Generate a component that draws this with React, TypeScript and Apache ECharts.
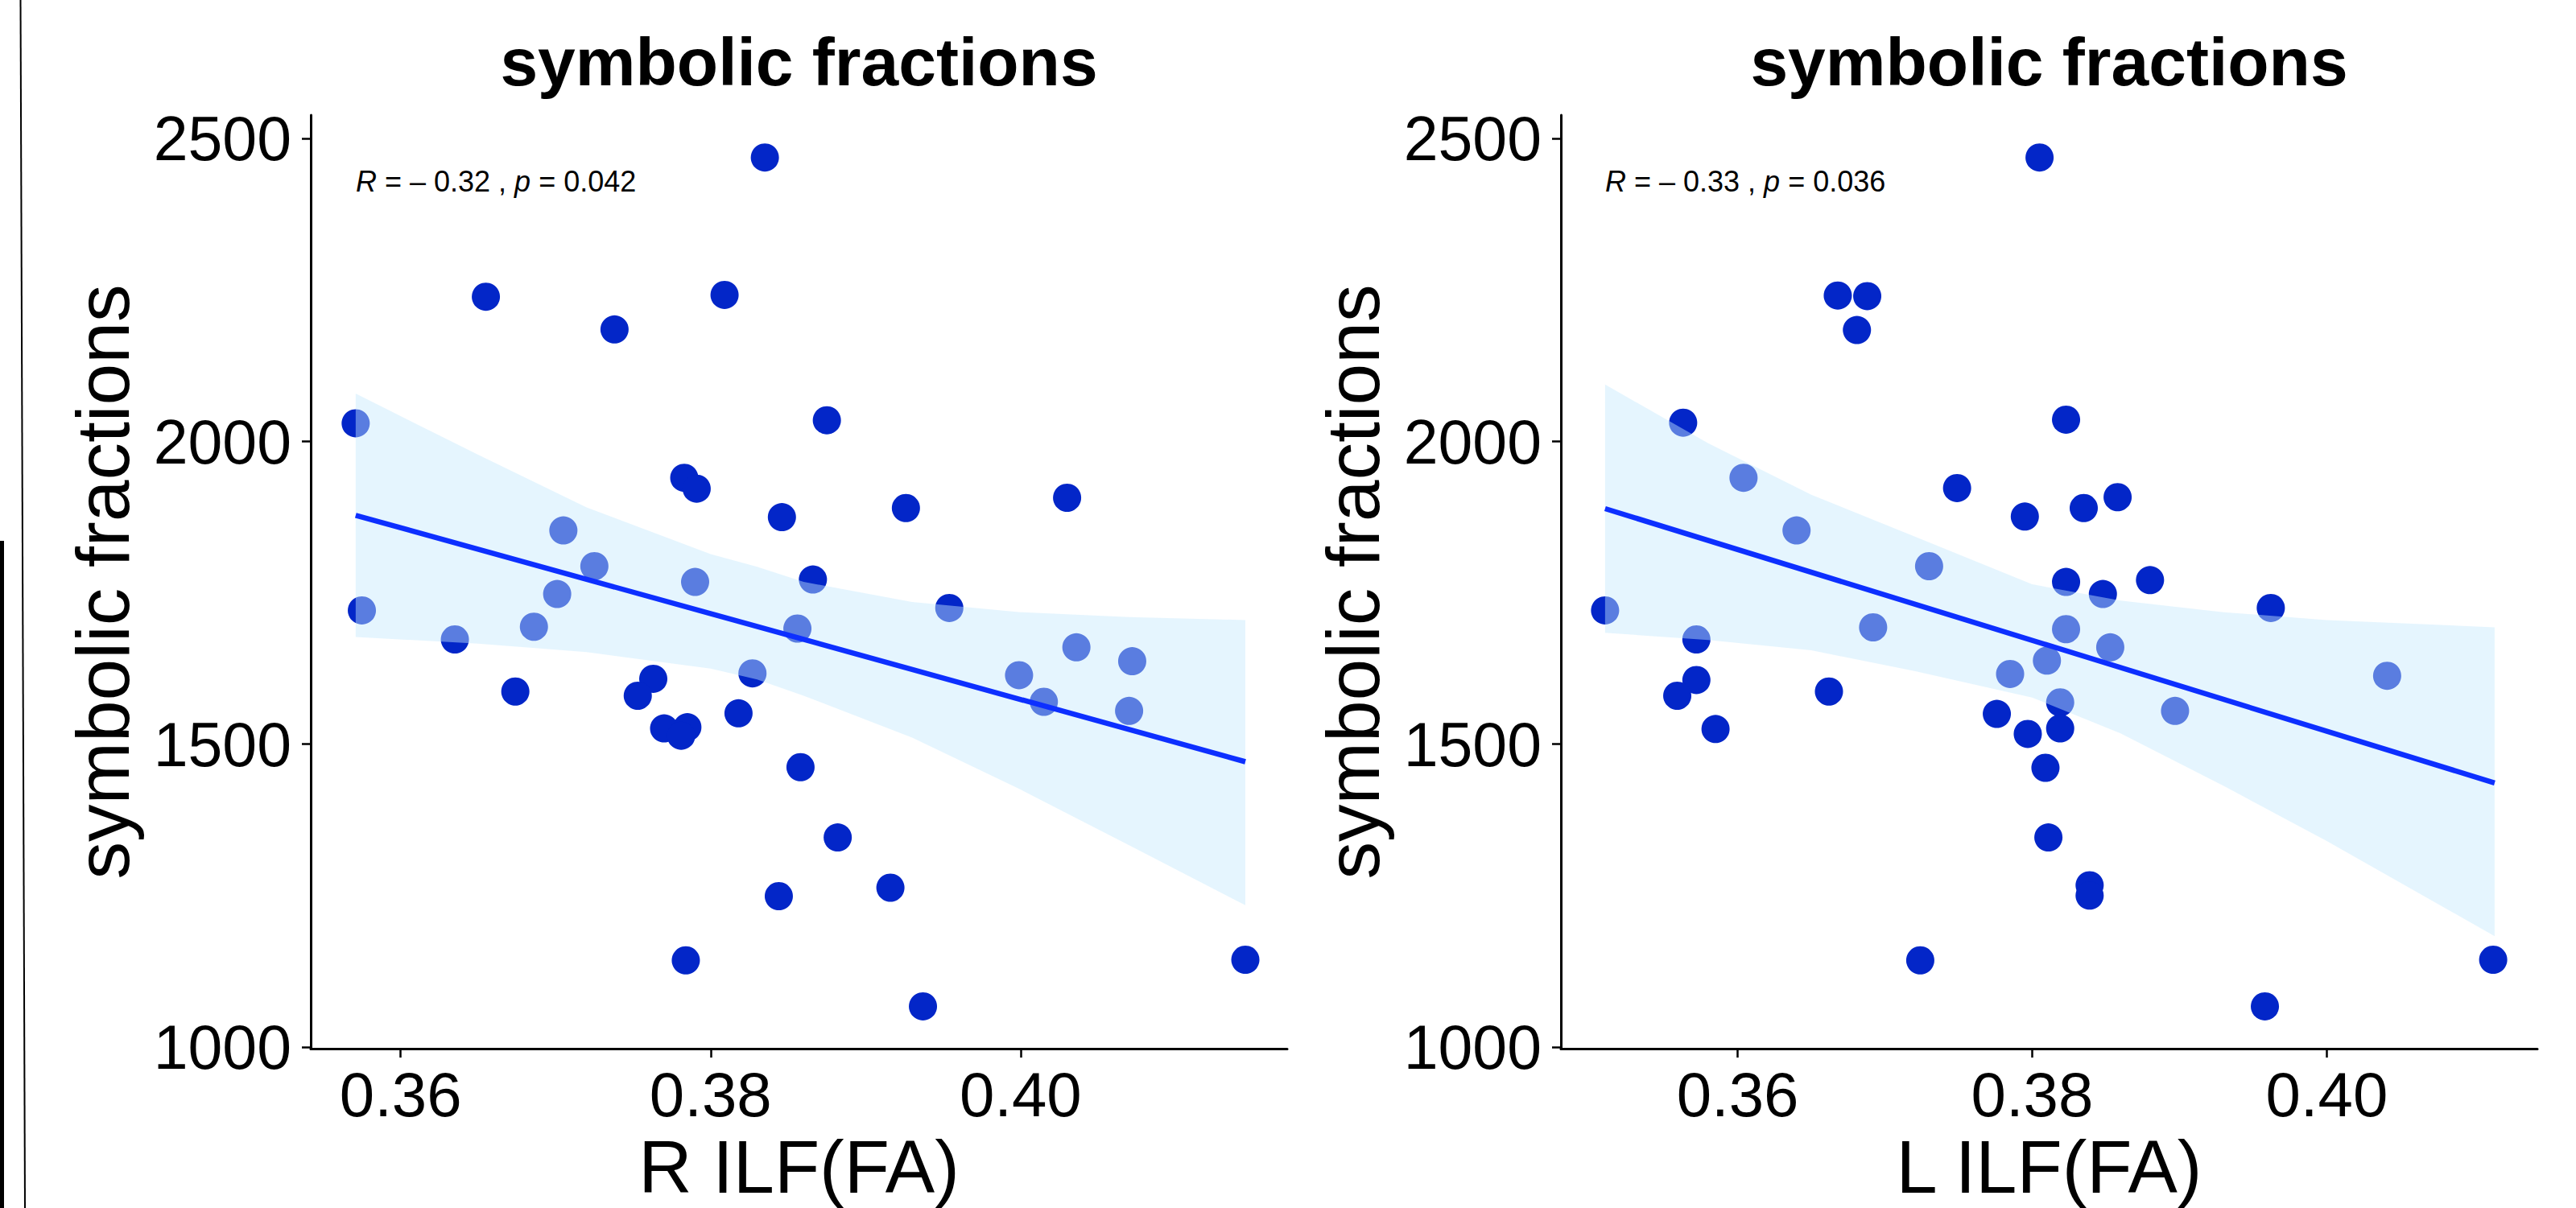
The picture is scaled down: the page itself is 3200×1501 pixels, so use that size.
import React, { useEffect, useRef } from "react";
import * as echarts from "echarts";

const FONT = '"Liberation Sans", Arial, Helvetica, sans-serif';

// ---------- texts ----------
const PANEL_TITLE = "symbolic fractions";
const Y_AXIS_NAME = "symbolic fractions";
const X_AXIS_NAMES = ["R ILF(FA)", "L ILF(FA)"];
const STAT_TEXTS = [
  "{i|R} = – 0.32 , {i|p} = 0.042",
  "{i|R} = – 0.33 , {i|p} = 0.036",
];

// ---------- ticks ----------
const X_TICKS = [0.36, 0.38, 0.4];
const Y_TICKS = [1000, 1500, 2000, 2500];

// ---------- panel 1: R ILF(FA) ----------
const rX = [
  0.3835, 0.3655, 0.3809, 0.3738, 0.3571, 0.3875, 0.3783, 0.3791, 0.403, 0.3926,
  0.3846, 0.3705, 0.3725, 0.379, 0.3866, 0.3575, 0.3701, 0.3686, 0.3635, 0.3954,
  0.3856, 0.4036, 0.4072, 0.3999, 0.4015, 0.407, 0.3827, 0.3674, 0.3763, 0.3753,
  0.3818, 0.377, 0.3785, 0.3781, 0.3858, 0.3882, 0.3844, 0.3916, 0.3784, 0.4145,
  0.3937,
];
const rY = [
  2469, 2239, 2242, 2185, 2030, 2035, 1940, 1922, 1907, 1890,
  1875, 1853, 1794, 1768, 1772, 1721, 1748, 1694, 1673, 1725,
  1691, 1660, 1637, 1614, 1570, 1555, 1617, 1587, 1608, 1580,
  1551, 1526, 1528, 1514, 1462, 1346, 1249, 1263, 1143, 1144,
  1067,
];
const rBandX = [0.3571, 0.365, 0.372, 0.38, 0.383, 0.386, 0.393, 0.4, 0.407, 0.4145];
const rBandUpper = [2079, 1978, 1891, 1814, 1793, 1768, 1735, 1718, 1710, 1705];
const rBandLower = [1677, 1666, 1652, 1625, 1607, 1580, 1511, 1425, 1333, 1234];
const rLineX = [0.3571, 0.4145];
const rLineY = [1878, 1471];

// ---------- panel 2: L ILF(FA) ----------
const lX = [
  0.3805, 0.3668, 0.3688, 0.3681, 0.3563, 0.3823, 0.3604, 0.3749, 0.3858, 0.3835,
  0.3795, 0.364, 0.373, 0.3823, 0.388, 0.3848, 0.351, 0.3962, 0.3692, 0.3572,
  0.3823, 0.3853, 0.381, 0.3785, 0.4041, 0.3572, 0.3662, 0.3559, 0.3819, 0.3897,
  0.3776, 0.3585, 0.3797, 0.3819, 0.3809, 0.3811, 0.3839, 0.3839, 0.3724, 0.4113,
  0.3958,
];
const lY = [
  2469, 2241, 2240, 2184, 2031, 2036, 1940, 1923, 1908, 1890,
  1876, 1853, 1794, 1768, 1771, 1748, 1721, 1725, 1693, 1673,
  1690, 1660, 1638, 1616, 1613, 1606, 1587, 1580, 1569, 1555,
  1550, 1525, 1517, 1526, 1461, 1346, 1267, 1250, 1143, 1144,
  1067,
];
const lBandX = [0.351, 0.358, 0.365, 0.372, 0.38, 0.386, 0.393, 0.4, 0.4114];
const lBandUpper = [2094, 1997, 1912, 1843, 1764, 1737, 1718, 1705, 1693];
const lBandLower = [1684, 1672, 1655, 1621, 1577, 1518, 1431, 1340, 1183];
const lLineX = [0.351, 0.4114];
const lLineY = [1889, 1436];

const POINT_COLOR = "#0326C8";
const BAND_COLOR = "#C5E9FD";
const LINE_COLOR = "#0D2FFF";

const panels = [
  { xs: rX, ys: rY, bx: rBandX, bu: rBandUpper, bl: rBandLower, lx: rLineX, ly: rLineY, xmin: 0.3542, xmax: 0.4172, left: 386 },
  { xs: lX, ys: lY, bx: lBandX, bu: lBandUpper, bl: lBandLower, lx: lLineX, ly: lLineY, xmin: 0.348, xmax: 0.4143, left: 1939 },
];

export default function App() {
  const ref = useRef<HTMLDivElement>(null);

  useEffect(() => {
    if (!ref.current) return;
    const chart = echarts.init(ref.current, null, { renderer: "svg" });

    const grids = panels.map((p) => ({ left: p.left, top: 143, width: 1213, height: 1177 }));

    const xAxes = panels.map((p, i) => ({
      type: "value",
      gridIndex: i,
      min: p.xmin,
      max: p.xmax,
      name: X_AXIS_NAMES[i],
      nameLocation: "middle",
      nameGap: 90,
      nameTextStyle: { fontSize: 92, color: "#000", fontFamily: FONT },
      axisLine: { show: true, lineStyle: { color: "#000", width: 3 } },
      axisTick: { show: true, length: 11, customValues: X_TICKS, lineStyle: { color: "#000", width: 2.5 } },
      axisLabel: {
        customValues: X_TICKS,
        formatter: (v: number) => v.toFixed(2),
        fontSize: 78,
        color: "#000",
        margin: 18,
        fontFamily: FONT,
      },
      splitLine: { show: false },
    }));

    const yAxes = panels.map((p, i) => ({
      type: "value",
      gridIndex: i,
      min: 997,
      max: 2539,
      name: Y_AXIS_NAME,
      nameLocation: "middle",
      nameGap: 212,
      nameTextStyle: { fontSize: 93, color: "#000", fontFamily: FONT },
      axisLine: { show: true, lineStyle: { color: "#000", width: 3 } },
      axisTick: { show: true, length: 11, customValues: Y_TICKS, lineStyle: { color: "#000", width: 2.5 } },
      axisLabel: {
        customValues: Y_TICKS,
        formatter: (v: number) => String(Math.round(v)),
        fontSize: 77,
        color: "#000",
        margin: 24,
        fontFamily: FONT,
      },
      splitLine: { show: false },
    }));

    const series: any[] = [];
    panels.forEach((p, i) => {
      series.push({
        type: "scatter",
        xAxisIndex: i,
        yAxisIndex: i,
        data: p.xs.map((x, k) => [x, p.ys[k]]),
        symbolSize: 35,
        itemStyle: { color: POINT_COLOR, opacity: 1 },
        z: 2,
        silent: true,
      });
      series.push({
        type: "custom",
        xAxisIndex: i,
        yAxisIndex: i,
        data: p.bx.map((x, k) => [x, p.bl[k], p.bu[k]]),
        encode: { x: 0, y: [1, 2] },
        renderItem: (params: any, api: any) => {
          if (params.dataIndex !== 0) return null;
          const pts: number[][] = [];
          for (let k = 0; k < p.bx.length; k++) pts.push(api.coord([p.bx[k], p.bu[k]]));
          for (let k = p.bx.length - 1; k >= 0; k--) pts.push(api.coord([p.bx[k], p.bl[k]]));
          return {
            type: "polygon",
            shape: { points: pts },
            style: { fill: BAND_COLOR, opacity: 0.45, stroke: "none" },
          };
        },
        z: 3,
        silent: true,
      });
      series.push({
        type: "line",
        xAxisIndex: i,
        yAxisIndex: i,
        data: p.lx.map((x, k) => [x, p.ly[k]]),
        showSymbol: false,
        symbol: "none",
        lineStyle: { color: LINE_COLOR, width: 6.5 },
        z: 4,
        silent: true,
      });
    });

    const graphic: any[] = [
      {
        type: "line",
        shape: { x1: 25.5, y1: 0, x2: 31, y2: 1501 },
        style: { stroke: "#000", lineWidth: 2 },
      },
      { type: "rect", shape: { x: 0, y: 672, width: 5, height: 829 }, style: { fill: "#000" } },
    ];
    const titleCenters = [992.5, 2545.5];
    titleCenters.forEach((cx) => {
      graphic.push({
        type: "text",
        x: cx,
        y: 77,
        style: {
          text: PANEL_TITLE,
          fontSize: 84,
          fontWeight: "bold",
          fontFamily: FONT,
          fill: "#000",
          align: "center",
          verticalAlign: "middle",
          textAlign: "center",
          textVerticalAlign: "middle",
        },
      });
    });
    const statLefts = [442, 1994];
    statLefts.forEach((sx, i) => {
      graphic.push({
        type: "text",
        x: sx,
        y: 225,
        style: {
          text: STAT_TEXTS[i],
          fontSize: 36,
          fontFamily: FONT,
          fill: "#000",
          align: "left",
          verticalAlign: "middle",
          textAlign: "left",
          textVerticalAlign: "middle",
          rich: { i: { fontStyle: "italic", fontSize: 36, fontFamily: FONT, fill: "#000" } },
        },
      });
    });

    chart.setOption({
      animation: false,
      backgroundColor: "#fff",
      grid: grids,
      xAxis: xAxes,
      yAxis: yAxes,
      series,
      graphic,
    });

    return () => chart.dispose();
  }, []);

  return (
    <div
      ref={ref}
      style={{ position: "fixed", left: 0, top: 0, width: 3200, height: 1501, background: "#fff" }}
    />
  );
}
